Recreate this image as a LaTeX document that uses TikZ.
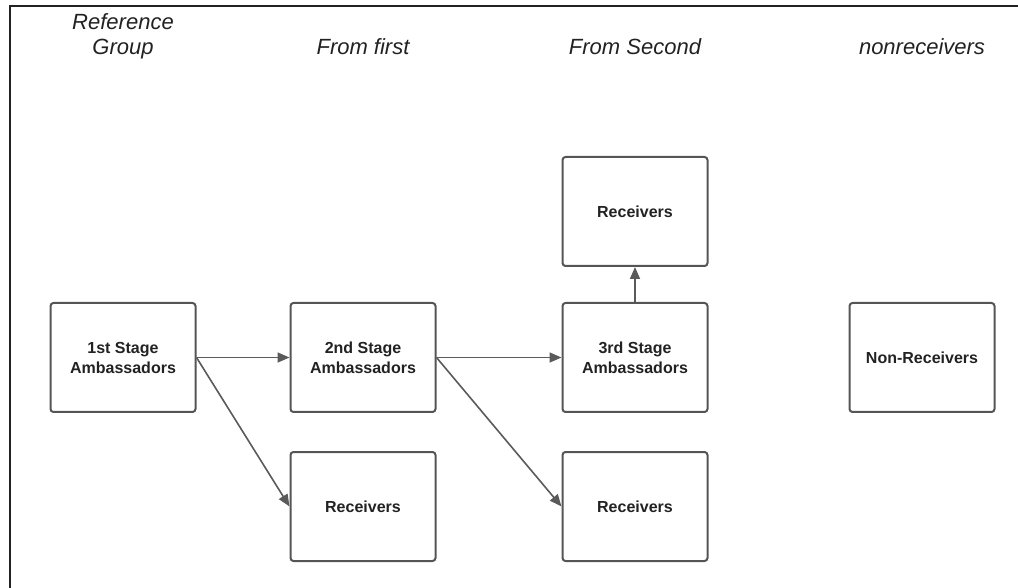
\documentclass[tikz,border=0pt]{standalone}
\usepackage{fontspec}
\setmainfont{Liberation Sans}
\usetikzlibrary{arrows.meta,positioning}
\definecolor{boxgray}{RGB}{85,85,85}
\definecolor{linegray}{RGB}{90,90,90}
\definecolor{textdark}{RGB}{34,34,34}

\begin{document}
\begin{tikzpicture}[x=0.5pt,y=-0.5pt,
  every node/.style={font=\fontsize{8}{10}\selectfont\bfseries, text=textdark},
  stagebox/.style={draw=boxgray, line width=1pt, rounded corners=1.5pt, minimum width=72.5pt, minimum height=54.5pt, align=center, inner sep=2pt},
  colhead/.style={font=\fontsize{11}{12.5}\selectfont\itshape, text=textdark, align=center, anchor=base},
  flow/.style={-{Triangle[length=6pt,width=5pt]}, draw=linegray, line width=0.8pt}]
  \useasboundingbox (0,0) rectangle (1018,588);
  \draw[line width=1pt, textdark] (9.5,588) -- (9.5,6) -- (1018,6);

  % stages
  \node[stagebox] (s1) at (123,357.5) {1st Stage\\Ambassadors};
  \node[stagebox, right=46.5pt of s1] (s2) {2nd Stage\\Ambassadors};
  \node[stagebox, below=19pt of s2] (r2) {Receivers};
  \node[stagebox, right=62.5pt of s2] (s3) {3rd Stage\\Ambassadors};
  \node[stagebox, above=17.5pt of s3] (r3up) {Receivers};
  \node[stagebox, below=19pt of s3] (r3) {Receivers};
  \node[stagebox, right=70pt of s3] (nr) {Non-Receivers};

  % column headings
  \node[colhead] (h1) at (s1 |- 0,55) {Reference\\Group};
  \node[colhead] (h2) at (s2 |- 0,55) {From first};
  \node[colhead] (h3) at (s3 |- 0,55) {From Second};
  \node[colhead] (h4) at (nr |- 0,55) {nonreceivers};

  \draw[flow] (s1.east) -- (s2.west);
  \draw[flow] (s1.east) -- (r2.west);
  \draw[flow] (s2.east) -- (s3.west);
  \draw[flow] (s2.east) -- (r3.west);
  \draw[flow] (s3.north) -- (r3up.south);
\end{tikzpicture}
\end{document}
